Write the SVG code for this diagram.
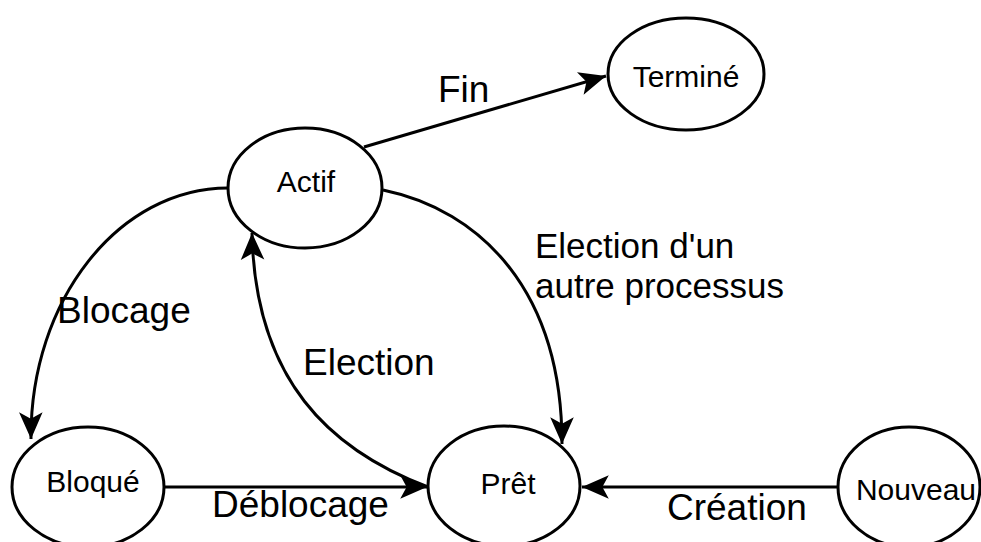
<svg xmlns="http://www.w3.org/2000/svg" width="981" height="542" viewBox="0 0 981 542">
<style>
.node ellipse{fill:#fff;stroke:#000;stroke-width:3}
.node text{font-family:"Liberation Sans",Arial,sans-serif;font-size:30px;fill:#000;text-anchor:middle}
.edge{fill:none;stroke:#000;stroke-width:3;marker-end:url(#arr)}
.lbl{font-family:"Liberation Sans",Arial,sans-serif;font-size:37px;fill:#000}
.lbl2{font-family:"Liberation Sans",Arial,sans-serif;font-size:35px;fill:#000}
</style>
<defs>
<marker id="arr" markerUnits="userSpaceOnUse" markerWidth="30" markerHeight="30" viewBox="-26 -13 28 26" refX="0" refY="0" orient="auto">
<path d="M0,0 L-25,-11 L-19,0 L-25,11 Z" fill="#000"/>
</marker>
</defs>
<rect width="981" height="542" fill="#fff"/>
<g id="connectors">
<path class="edge" d="M364,147 L606,76"/>
<path class="edge" d="M228,188 C119,188 30,300 31,439"/>
<path class="edge" d="M383,190 C480,210 562,290 562,444"/>
<path class="edge" d="M428,487 C330,450 255,380 252,233"/>
<path class="edge" d="M163,487 L427,487"/>
<path class="edge" d="M838,487 L582,487"/>
<text class="lbl" x="438" y="102">Fin</text>
<text class="lbl" x="57" y="323">Blocage</text>
<text class="lbl" x="303" y="375">Election</text>
<text class="lbl2" x="535" y="258">Election d'un</text>
<text class="lbl2" x="535" y="298">autre processus</text>
<text class="lbl" x="212" y="517">Déblocage</text>
<text class="lbl" x="667" y="520">Création</text>
</g>
<g id="actif" class="node"><ellipse cx="305" cy="188" rx="77" ry="60"/><text x="306" y="192">Actif</text></g>
<g id="termine" class="node"><ellipse cx="686" cy="74" rx="78" ry="56"/><text x="686" y="87">Terminé</text></g>
<g id="bloque" class="node"><ellipse cx="88" cy="487" rx="76" ry="60"/><text x="93" y="492">Bloqué</text></g>
<g id="pret" class="node"><ellipse cx="504" cy="486" rx="76" ry="60"/><text x="508" y="494">Prêt</text></g>
<g id="nouveau" class="node"><ellipse cx="909" cy="487" rx="71" ry="60"/><text x="916" y="500">Nouveau</text></g>
</svg>
